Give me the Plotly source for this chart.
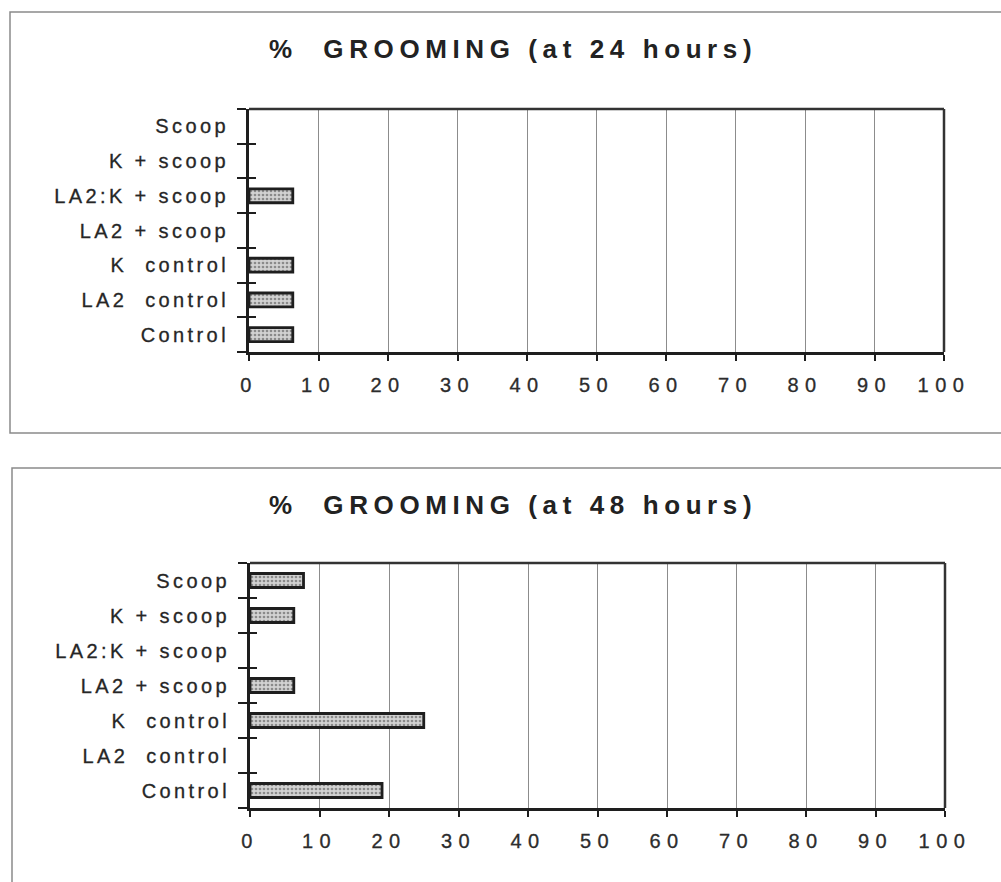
import plotly.graph_objects as go

# Treatment groups, listed bottom-to-top as they appear on the category axis
categories = ["Control", "LA2  control", "K  control", "LA2 + scoop",
              "LA2:K + scoop", "K + scoop", "Scoop"]

# Percentage of animals grooming
grooming_24h = [6.3, 6.3, 6.3, 0, 6.3, 0, 0]
grooming_48h = [19, 0, 25, 6.3, 0, 6.3, 7.7]

titles = ["%  GROOMING (at 24 hours)", "%  GROOMING (at 48 hours)"]
x_ticks = [0, 10, 20, 30, 40, 50, 60, 70, 80, 90, 100]

W, H = 1001, 882
FONT = "Liberation Sans, Arial, sans-serif"
INK = "#1e1e1e"


def spaced(text, px, weight=0.0):
    """Wrap text in a tspan with tracking (and optional stroke thickening);
    keep repeated spaces visible."""
    text = text.replace("  ", "\u00a0 ")
    style = f"letter-spacing:{px}px"
    if weight:
        style += f";stroke:#262626;stroke-width:{weight}px"
    return f'<span style="{style}">{text}</span>'


# Plot areas in pixels: (left, top, right, bottom)
panels = [(249, 109, 944, 352), (250, 563, 945, 808)]
series = [grooming_24h, grooming_48h]

fig = go.Figure()
for i, (vals, (l, t, r, b)) in enumerate(zip(series, panels), start=1):
    xa = "x" if i == 1 else f"x{i}"
    ya = "y" if i == 1 else f"y{i}"
    ya_in = f"y{i + 2}"          # overlay axis carrying the inner half of the ticks
    fig.add_trace(go.Bar(
        x=vals, y=categories, orientation="h", width=0.4,
        xaxis=xa, yaxis=ya, showlegend=False,
        marker=dict(
            color="#c8c8c8",
            # empty groups get no outline, so nothing is drawn for them
            line=dict(color=INK, width=[2.8 if v > 0 else 0 for v in vals]),
            pattern=dict(shape=".", fgcolor="#8a8a8a", bgcolor="#d2d2d2",
                         size=4, solidity=0.35, fillmode="replace"),
        ),
    ))
    # invisible copy so the overlay axis knows the categories
    fig.add_trace(go.Bar(
        x=vals, y=categories, orientation="h", xaxis=xa, yaxis=ya_in,
        showlegend=False, hoverinfo="skip", marker=dict(opacity=0),
    ))
    xdom = [l / W, r / W]
    ydom = [1 - b / H, 1 - t / H]
    fig.layout[f"xaxis{'' if i == 1 else i}"] = dict(
        domain=xdom, anchor=ya, range=[0, 100], automargin=False,
        tickmode="array", tickvals=x_ticks,
        ticktext=[spaced(str(v), 6.5, 0.3) for v in x_ticks],
        tickfont=dict(family=FONT, size=20, color="#2e2e2e"),
        ticks="outside", ticklen=6, tickwidth=1.5, tickcolor=INK,
        ticklabelstandoff=7,
        showgrid=True, gridcolor="#8c8c8c", gridwidth=1,
        showline=True, linecolor=INK, linewidth=3, zeroline=False,
    )
    ycommon = dict(
        domain=ydom, anchor=xa, type="category", automargin=False,
        categoryorder="array", categoryarray=categories,
        range=[-0.5, len(categories) - 0.5],
        tickmode="array", tickvals=categories, tickson="boundaries",
        tickwidth=1.5, tickcolor=INK, showgrid=False, zeroline=False,
    )
    fig.layout[f"yaxis{'' if i == 1 else i}"] = dict(
        ycommon,
        ticktext=[spaced(c, 3.4, 0.3) for c in categories],
        tickfont=dict(family=FONT, size=20, color="#262626"),
        ticks="outside", ticklen=9, ticklabelstandoff=13,
        showline=True, linecolor=INK, linewidth=3,
    )
    fig.layout[f"yaxis{i + 2}"] = dict(
        ycommon, overlaying=ya, ticks="inside", ticklen=7,
        showticklabels=False, showline=False,
    )
    # top and right edges of the plot frame
    fig.add_shape(type="line", xref=f"{xa} domain", yref=f"{ya} domain",
                  x0=0, x1=1, y0=1, y1=1, line=dict(color="#333", width=2.5))
    fig.add_shape(type="line", xref=f"{xa} domain", yref=f"{ya} domain",
                  x0=1, x1=1, y0=0, y1=1, line=dict(color="#333", width=2.5))

# Outer panel frames
fig.add_shape(type="rect", xref="paper", yref="paper",
              x0=10 / W, x1=1.02, y0=1 - 433 / H, y1=1 - 12 / H,
              line=dict(color="#8a8a8a", width=1.5), layer="below")
fig.add_shape(type="rect", xref="paper", yref="paper",
              x0=12 / W, x1=1.02, y0=-0.05, y1=1 - 468 / H,
              line=dict(color="#8a8a8a", width=1.5), layer="below")

# Panel titles
for title, ty in zip(titles, [49, 505]):
    fig.add_annotation(
        text=f"<b>{spaced(title, 5.6)}</b>", xref="paper", yref="paper",
        x=513 / W, y=1 - ty / H, xanchor="center", yanchor="middle",
        showarrow=False, font=dict(family=FONT, size=26, color="#222"),
    )

fig.update_layout(
    width=W, height=H, margin=dict(l=0, r=0, t=0, b=0, autoexpand=False),
    paper_bgcolor="white", plot_bgcolor="white", bargap=0.6,
)

fig.write_html("out.html")
